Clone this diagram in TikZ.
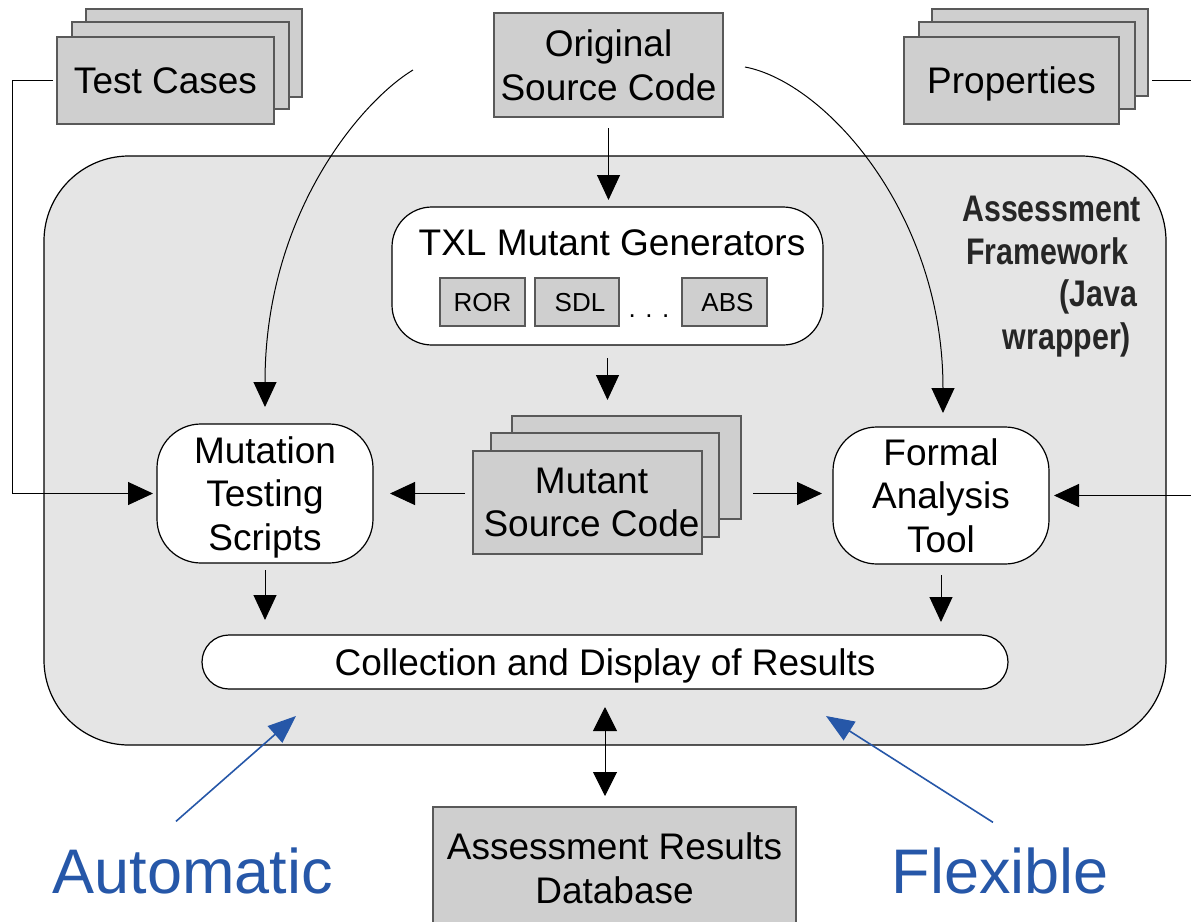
\documentclass[tikz,border=0pt]{standalone}
\usepackage{fontspec}
\setmainfont{Liberation Sans}
\newfontfamily\narrowfont[FakeStretch=0.82]{Liberation Sans}
\usetikzlibrary{arrows.meta,calc}
\definecolor{boxfill}{HTML}{CFCFCF}
\definecolor{boxline}{HTML}{595959}
\definecolor{fwfill}{HTML}{E5E5E5}
\definecolor{blu}{HTML}{2657A8}
\definecolor{fwtext}{HTML}{262626}
\begin{document}
\begin{tikzpicture}[x=0.5pt,y=-0.5pt,
  every node/.style={inner sep=0pt, outer sep=0pt},
  main/.style={font=\fontsize{18.5}{21.75}\selectfont, align=center, text depth=0pt},
  small/.style={font=\fontsize{13}{15}\selectfont, text depth=0pt},
  gbox/.style={draw=boxline, fill=boxfill, line width=0.7pt},
  wbox/.style={draw=black, fill=white, line width=0.6pt},
  arr/.style={draw=black, line width=0.5pt, -{Triangle[length=12.5pt,width=11.5pt]}},
  darr/.style={draw=black, line width=0.5pt, {Triangle[length=12pt,width=12pt]}-{Triangle[length=12pt,width=12pt]}},
  barr/.style={draw=blu, line width=0.8pt, -{Triangle[length=14pt,width=11pt]}},
]
\useasboundingbox (0,0) rectangle (1191,922);

% framework container
\node[draw=black, fill=fwfill, line width=0.6pt, rounded corners=42.5pt,
      minimum width=561pt, minimum height=294.5pt] (fw) at (605,450.5) {};
\node[font={\narrowfont\bfseries\fontsize{18.5}{21.25}\selectfont}, text=fwtext,
      align=right, anchor=north east] (fwt) at (1141,196.5)
      {Assessment\\Framework\hspace*{6.5pt}\mbox{}\\(Java\hspace*{2pt}\mbox{}\\wrapper)\hspace*{5pt}\mbox{}};

% Test Cases stack
\node[gbox, minimum width=108pt, minimum height=44pt] (tc3) at (194,53) {};
\node[gbox, minimum width=108.5pt, minimum height=43.5pt] (tc2) at (180.5,65.5) {};
\node[gbox, main, minimum width=108.5pt, minimum height=43.5pt] (tc) at (165.5,80.5) {Test Cases};

% Properties stack
\node[gbox, minimum width=108pt, minimum height=43.5pt] (prop3) at (1040,52.5) {};
\node[gbox, minimum width=108pt, minimum height=43.5pt] (prop2) at (1027,65.5) {};
\node[gbox, main, minimum width=107.5pt, minimum height=43.5pt] (prop) at (1011.5,80.5) {Properties};

% Original source code
\node[gbox, main, minimum width=114.5pt, minimum height=52pt] (orig) at (608.5,65) {Original\\Source Code};

% TXL Mutant Generators
\node[wbox, rounded corners=20pt, minimum width=215.5pt, minimum height=69pt] (txl) at (607.5,276) {};
\node[main, anchor=base] (txlt) at (612,255) {TXL Mutant Generators};
\node[gbox, small, minimum width=42.5pt, minimum height=24pt] (ror) at (482.5,302) {ROR};
\node[gbox, small, minimum width=42pt, minimum height=24pt] (sdl) at (577,302) {\hspace*{3pt}SDL};
\node[small, anchor=base] (dots) at (649,317) {. . .};
\node[gbox, small, minimum width=42.5pt, minimum height=24pt] (abs) at (724.5,302) {\hspace*{3pt}ABS};

% Mutant source code stack
\node[gbox, minimum width=114.5pt, minimum height=51.5pt] (mut3) at (626.5,467.5) {};
\node[gbox, minimum width=114pt, minimum height=52pt] (mut2) at (605,485) {};
\node[gbox, main, minimum width=114.5pt, minimum height=51.5pt] (mut) at (587.5,502.5) {\hspace*{4pt}Mutant\\\hspace*{4pt}Source Code};

% Mutation testing scripts & formal analysis tool
\node[wbox, main, rounded corners=22pt, minimum width=108pt, minimum height=69.5pt] (mts) at (265,493.5) {Mutation\\Testing\\Scripts};
\node[wbox, main, rounded corners=22pt, minimum width=108pt, minimum height=68.5pt] (fat) at (941,495.5) {Formal\\Analysis\\Tool};

% Collection
\node[wbox, main, rounded corners=13.5pt, minimum width=403pt, minimum height=27pt] (coll) at (605,662) {Collection and Display of Results};

% Database
\node[gbox, main, minimum width=181.5pt, minimum height=61pt] (db) at (614.5,868) {Assessment Results\\Database};

% Labels
\node[font=\fontsize{31.5}{36}\selectfont, text=blu, anchor=base] (auto) at (192.5,893) {Automatic};
\node[font=\fontsize{31.5}{36}\selectfont, text=blu, anchor=base] (flex) at (1000.5,893) {Flexible};

% Connectors
\draw[arr, shorten <=5.5pt, shorten >=3.5pt] (orig.south) -- (orig.south |- txl.north);
\draw[arr, shorten <=6.5pt, shorten >=8pt] (txl.south) -- (txl.south |- mut3.north);
\draw[arr, shorten <=4pt, shorten >=8.5pt] (mut.west |- mts.east) -- (mts.east);
\draw[arr, shorten <=6pt, shorten >=5.5pt] (mut3.east |- mts.east) -- (fat.west |- mts.east);
\draw[arr, shorten <=2pt, shorten >=2pt] (tc.west) -- ++(-45,0) |- (mts.west);
\draw[arr, shorten <=2pt, shorten >=2.5pt] (prop3.east |- prop.east) -- ++(60,0) |- (fat.east);
\draw[arr] ($(orig.west)+(-81,5)$) .. controls +(-50,30) and +(0,-195) .. ($(mts.north)+(0,-17)$);
\draw[arr] ($(orig.east)+(22,2)$) .. controls +(80,15) and +(0,-200) .. ($(fat.north)+(2,-14)$);
\draw[arr, shorten <=3.5pt, shorten >=7.5pt] (mts.south) -- (mts.south |- coll.north);
\draw[arr, shorten <=5.5pt, shorten >=6.5pt] (fat.south) -- (fat.south |- coll.north);
\draw[darr, shorten <=9pt, shorten >=5.5pt] (coll.south) -- (coll.south |- db.north);
\draw[barr] ($(auto.north)+(-16.5,-26)$) -- ($(coll.south west)+(94,27)$);
\draw[barr] ($(flex.north)+(-7.5,-25)$) -- ($(coll.south east)+(-182,27)$);
\end{tikzpicture}
\end{document}
